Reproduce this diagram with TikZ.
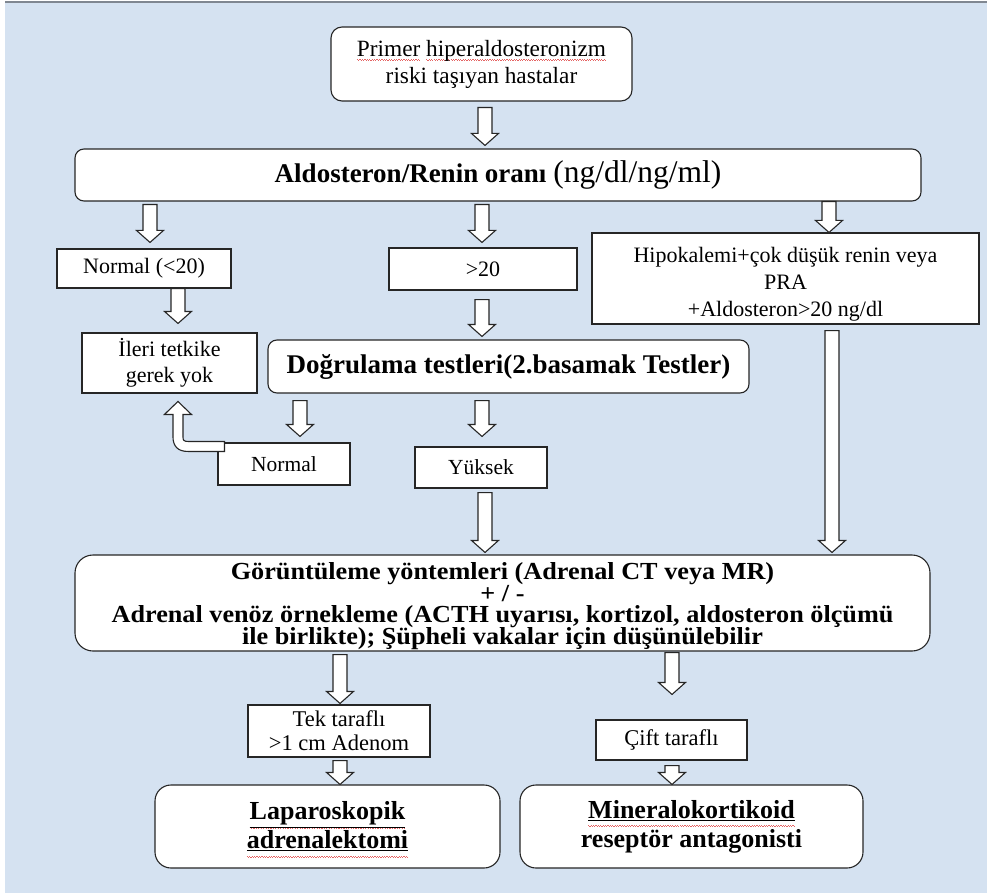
\documentclass[tikz,border=0pt]{standalone}
\usepackage{fontspec}
\setmainfont{Liberation Serif}
\newfontfamily\widefont[FakeStretch=1.07]{Liberation Serif}
\usetikzlibrary{calc}

\definecolor{bgblue}{RGB}{213,226,241}
\definecolor{edgegray}{RGB}{128,135,145}
\definecolor{spellred}{RGB}{228,100,100}

% wavy proofing mark under a word
\newcommand\spellmark[2][4pt]{\setbox0=\hbox{#2}\leavevmode\rlap{\raisebox{-#1}[0pt][0pt]{\color{spellred}\hbox to\wd0{\xleaders\hbox{\rule{1.2pt}{0.7pt}\rule[-0.8pt]{1.2pt}{0.7pt}}\hfill}}}\box0\relax}
% centred lines moved down by #1 inside their box
\newcommand\lowered[2]{\raisebox{-#1}[\height][\depth]{\begin{tabular}{@{}c@{}}#2\end{tabular}}}
% centred paragraph of width #2 with fixed line pitch #3, moved down by #1
\newcommand\tightlines[4]{\raisebox{-#1}[\height][\depth]{\parbox{#2}{\centering\lineskiplimit=-\maxdimen\baselineskip=#3 #4}}}

\tikzset{
  box/.style={draw=black!85, line width=1.1pt, fill=white, inner sep=2pt, align=center, text=black},
  rbox/.style={box, rounded corners=11pt},
  blockarrow/.style={draw=black!85, fill=white, line width=1.1pt, line join=miter},
}

% hollow block arrow pointing down at x=#1 from node #2 to node #3 (gaps #4, #5)
\newcommand\blockdown[5]{%
  \draw[blockarrow] let \p1=(#2.south), \p2=(#3.north) in
    (#1pt-7pt,\y1-#4pt) -- (#1pt+7pt,\y1-#4pt) -- (#1pt+7pt,\y2+#5pt+12pt)
    -- (#1pt+13.5pt,\y2+#5pt+12pt) -- (#1pt,\y2+#5pt) -- (#1pt-13.5pt,\y2+#5pt+12pt)
    -- (#1pt-7pt,\y2+#5pt+12pt) -- cycle;}

\begin{document}
\begin{tikzpicture}[x=1pt,y=-1pt]
\useasboundingbox (0,0) rectangle (987,893);
\fill[bgblue] (5,2) rectangle (987,893);
\draw[edgegray, line width=1.5pt] (5,2) -- (987,2);

% boxes
\node[rbox, minimum width=301, minimum height=74, font=\fontsize{23.3}{27}\selectfont] (top) at (481.5,64)
  {\spellmark{Primer} \spellmark{hiperaldosteronizm}\\riski taşıyan hastalar};
\node[rbox, rounded corners=9pt, minimum width=846, minimum height=52, font=\fontsize{27}{30}\selectfont] (arr) at (498,175)
  {\textbf{Aldosteron/Renin oranı }{\fontsize{31.5}{31}\selectfont(ng/dl/ng/ml)}};
\node[box, minimum width=174, minimum height=39, font=\fontsize{22}{26}\selectfont] (nrm) at (144,268.5) {Normal (<20)};
\node[box, minimum width=188, minimum height=42, font=\fontsize{22}{26}\selectfont] (gt20) at (483,269) {>20};
\node[box, minimum width=387, minimum height=91, font=\fontsize{22}{27}\selectfont] (hipo) at (785.5,278.5)
  {\lowered{6pt}{Hipokalemi+çok düşük renin veya\\PRA\\+Aldosteron>20 ng/dl}};
\node[box, minimum width=175, minimum height=60, font=\fontsize{22}{26}\selectfont] (ileri) at (169.5,363)
  {İleri tetkike\\gerek yok};
\node[rbox, rounded corners=9pt, minimum width=481, minimum height=53, font=\bfseries\fontsize{27}{30}\selectfont] (dog) at (508.5,366.5)
  {Doğrulama testleri(2.basamak Testler)};
\node[box, minimum width=132, minimum height=42, font=\fontsize{21.5}{25}\selectfont] (norm2) at (284,464) {Normal};
\node[box, minimum width=132, minimum height=41, font=\fontsize{21.5}{25}\selectfont] (yuk) at (481,467.5) {Yüksek};
\node[rbox, rounded corners=18pt, minimum width=855, minimum height=96, font=\widefont\bfseries\fontsize{24.5}{21.5}\selectfont] (img) at (502.5,603)
  {\tightlines{3pt}{840pt}{21.5pt}{Görüntüleme yöntemleri (Adrenal CT veya MR)\\+ / -\\Adrenal venöz örnekleme (ACTH uyarısı, kortizol, aldosteron ölçümü\\ile birlikte); Şüpheli vakalar için düşünülebilir}};
\node[box, minimum width=182, minimum height=52, font=\fontsize{22.5}{24}\selectfont] (tek) at (339,731)
  {Tek taraflı\\>1 cm Adenom};
\node[box, minimum width=151, minimum height=40, font=\fontsize{22.5}{24}\selectfont] (cift) at (671.5,740) {Çift taraflı};
\node[rbox, rounded corners=16pt, minimum width=345, minimum height=83, font=\bfseries\fontsize{26}{29}\selectfont] (lap) at (327.5,826.5)
  {\spellmark[8pt]{\underline{Laparoskopik}}\\\spellmark[8pt]{\underline{adrenalektomi}}};
\node[rbox, rounded corners=16pt, minimum width=343, minimum height=83, font=\bfseries\fontsize{26}{29}\selectfont] (min) at (691.5,826.5)
  {\spellmark[8pt]{\underline{Mineralokortikoid}}\\reseptör antagonisti};

% block arrows
\blockdown{485}{top}{arr}{6}{3}
\blockdown{150}{arr}{nrm}{3}{6}
\blockdown{482}{arr}{gt20}{3}{5}
\blockdown{829}{arr}{hipo}{0}{0}
\blockdown{178}{nrm}{ileri}{0}{9}
\blockdown{482}{gt20}{dog}{9}{3}
\blockdown{300}{dog}{norm2}{7}{6}
\blockdown{482}{dog}{yuk}{7}{10}
\blockdown{485}{yuk}{img}{4}{2}
\blockdown{832}{hipo}{img}{6}{2}
\blockdown{340}{img}{tek}{3}{1}
\blockdown{672}{img}{cift}{1}{25}
\blockdown{340}{tek}{lap}{3}{0}
\blockdown{672}{cift}{min}{5}{0}

% bent arrow from the second "Normal" back up to "İleri tetkike gerek yok"
\begin{scope}[shift={(norm2.north west)}]
  \draw[blockarrow] (7,-1) -- (-29.5,-1)
    .. controls (-33.5,-1) and (-34.5,-2) .. (-34.5,-6) -- (-34.5,-28)
    -- (-26,-28) -- (-39.5,-41) -- (-53,-28) -- (-44.5,-28) -- (-44.5,-6)
    .. controls (-44.5,4) and (-39.5,9) .. (-29.5,9) -- (7,9) -- cycle;
\end{scope}
\end{tikzpicture}
\end{document}
